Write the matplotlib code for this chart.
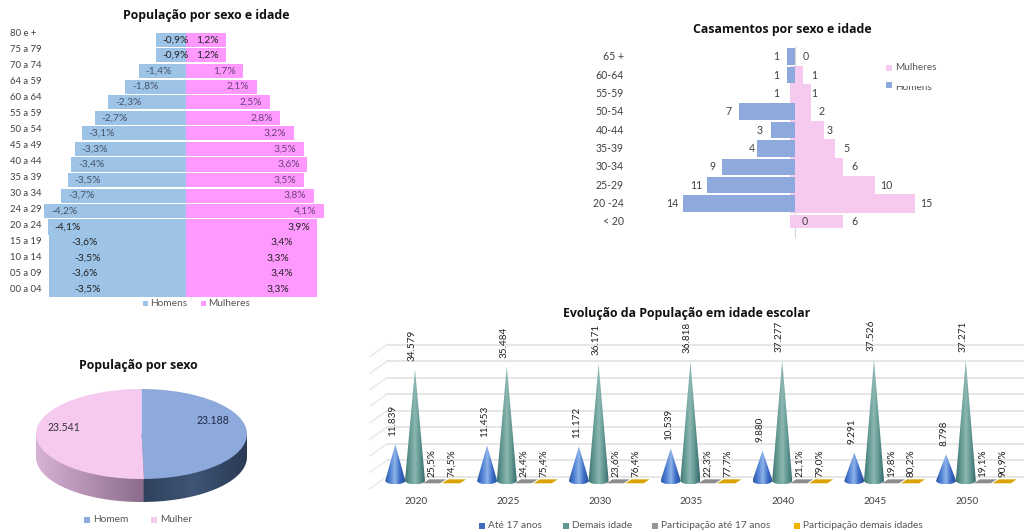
import numpy as np
import matplotlib
matplotlib.use("Agg")
import matplotlib.pyplot as plt
from matplotlib.colors import LinearSegmentedColormap
from matplotlib.patches import Polygon, Rectangle

W, H = 1024, 532
TITLE_FONT = "Open Sans"
plt.rcParams['font.family'] = ['Lato', 'DejaVu Sans']

# populacao por sexo e idade
ages = ["80 e +", "75 a 79", "70 a 74", "64 a 59", "60 a 64", "55 a 59", "50 a 54", "45 a 49", "40 a 44",
        "35 a 39", "30 a 34", "24 a 29", "20 a 24", "15 a 19", "10 a 14", "05 a 09", "00 a 04"]
men_pct = [0.9, 0.9, 1.4, 1.8, 2.3, 2.7, 3.1, 3.3, 3.4, 3.5, 3.7, 4.2, 4.1, 3.6, 3.5, 3.6, 3.5]
women_pct = [1.2, 1.2, 1.7, 2.1, 2.5, 2.8, 3.2, 3.5, 3.6, 3.5, 3.8, 4.1, 3.9, 3.4, 3.3, 3.4, 3.3]
# in the picture the last rows are drawn wider than their labels say
men_drawn = [0.9, 0.9, 1.4, 1.8, 2.3, 2.7, 3.1, 3.3, 3.4, 3.5, 3.7, 4.2, 4.1, 4.07, 4.07, 4.07, 4.07]
women_drawn = [1.2, 1.2, 1.7, 2.1, 2.5, 2.8, 3.2, 3.5, 3.6, 3.5, 3.8, 4.1, 3.9, 3.9, 3.9, 3.9, 3.9]

# casamentos por sexo e idade
wed_ages = ["65 +", "60-64", "55-59", "50-54", "40-44", "35-39", "30-34", "25-29", "20 -24", "< 20"]
wed_men = [1, 1, 1, 7, 3, 4, 9, 11, 14, 0]
wed_women = [0, 1, 1, 2, 3, 5, 6, 10, 15, 6]
wed_men_drawn = [1, 1, 0, 7, 3, 4.75, 9.1, 11, 14, 0]
wed_women_drawn = [0, 1, 2, 2, 3.6, 5, 6, 10, 15, 6]

# populacao por sexo
sex_labels = ["Homem", "Mulher"]
sex_values = [23188, 23541]

# evolucao escolar
years = ["2020", "2025", "2030", "2035", "2040", "2045", "2050"]
under_17 = [11839, 11453, 11172, 10539, 9880, 9291, 8798]
others = [34579, 35484, 36171, 36818, 37277, 37526, 37271]
share_under = ["25,5%", "24,4%", "23,6%", "22,3%", "21,1%", "19,8%", "19,1%"]
share_others = ["74,5%", "75,4%", "76,4%", "77,7%", "79,0%", "80,2%", "90,9%"]

BLUE1, PINK1 = '#9DC3E6', '#FF99FF'
BLUE2, PINK2 = '#8EA9DB', '#F6CAEE'
TXT = '#404040'

fig = plt.figure(figsize=(W / 100, H / 100), dpi=100)


def px_axes(left, top, right, bottom):
    ax = fig.add_axes([left / W, 1 - bottom / H, (right - left) / W, (bottom - top) / H])
    ax.axis('off')
    return ax


def fig_text(x, y, s, **kw):
    fig.text(x / W, 1 - y / H, s, **kw)


def title(x, y, s):
    fig_text(x, y, s, ha='center', va='center', fontsize=8.9, fontweight='bold',
             family=TITLE_FONT, color='#111111')


def legend_item(x, y, color, label, size=6, fontsize=7.3, text_dy=0):
    fig.add_artist(Rectangle(((x - size / 2) / W, 1 - (y + size / 2) / H), size / W, size / H,
                             transform=fig.transFigure, fc=color, ec='none'))
    fig_text(x + size / 2 + 3, y + text_dy, label, ha='left', va='center', fontsize=fontsize, color='#555555')


# ---- piramide 1
ax = px_axes(0, 32, 340, 297)
scale1 = 33.7
ax.set_xlim(-186 / scale1, (340 - 186) / scale1)
ax.set_ylim(16.5, -0.5)
rows = np.arange(len(ages))
heights = [1.02 if i >= 12 else 0.9 for i in rows]
ax.barh(rows, [-v for v in men_drawn], height=heights, color=BLUE1)
ax.barh(rows, women_drawn, height=heights, color=PINK1)
for i in rows:
    dark = i < 2 or i >= 12
    men_c = '#222222' if dark else '#44546A'
    women_c = '#222222' if dark else '#6B3E78'
    ax.text(-men_pct[i] + 20 / scale1, i, "-" + f"{men_pct[i]:.1f}%".replace('.', ','), ha='center', va='center',
            fontsize=7.4, color=men_c)
    ax.text(women_pct[i] - 19 / scale1, i, f"{women_pct[i]:.1f}%".replace('.', ','), ha='center', va='center',
            fontsize=7.4, color=women_c)
    # the age labels run on their own, slightly wider, spacing
    ax.text(10 / 340, 1 - (1 + i * 16) / 265, ages[i], transform=ax.transAxes, ha='left', va='center',
            fontsize=6.8, color=TXT)
title(206, 15, "População por sexo e idade")
legend_item(145, 303, BLUE1, "Homens", size=5)
legend_item(203, 303, PINK1, "Mulheres", size=5)

# ---- piramide 2
ax = px_axes(640, 47.5, 960, 231)
scale2 = 8
ax.set_xlim(-155 / scale2, 165 / scale2)
ax.set_ylim(9.5, -0.5)
rows = np.arange(len(wed_ages))
ax.plot([0, 0], [-0.5, 9.8], color='#D9D9D9', lw=0.8, zorder=0, clip_on=False)
for i in rows:
    if wed_women_drawn[i] > 0:
        ax.barh(i, wed_women_drawn[i] + 0.6, left=-0.6, height=0.7 if i == 9 else 1.0, color=PINK2, zorder=1)
ax.barh(rows, [-v for v in wed_men_drawn], height=0.9, color=BLUE2, zorder=2)
for i in rows:
    x_men = -(wed_men[i] + 11 / scale2) if wed_men[i] else 10 / scale2
    ax.text(x_men, i, str(wed_men[i]), ha='center', va='center', fontsize=7.6, color=TXT, zorder=3)
    ax.text(wed_women[i] + 11 / scale2, i, str(wed_women[i]), ha='center', va='center', fontsize=7.6,
            color=TXT, zorder=3)
    ax.text(-171 / scale2, i, wed_ages[i], ha='right', va='center', fontsize=7.6, color=TXT)
title(782, 30, "Casamentos por sexo e idade")
legend_item(889, 68, PINK2, "Mulheres", size=6, fontsize=7.2)
legend_item(889, 85, BLUE2, "Homens", size=6, fontsize=7.2, text_dy=3)
# top of this legend text is cut off in the picture
fig.add_artist(Rectangle((895 / W, 1 - 86 / H), 45 / W, 4 / H, transform=fig.transFigure, fc='white', ec='none',
                         zorder=5))

# ---- pizza
ax = px_axes(36, 389, 247, 502)
rim_cmap = LinearSegmentedColormap.from_list('rim', [(0, '#D6B2D4'), (0.508, '#8B6C8A'), (0.512, '#30425F'),
                                                     (0.75, '#3F5575'), (1, '#2A3A55')])
t = np.linspace(np.pi, 2 * np.pi, 120)
depth = 23 / 45
verts = np.column_stack([np.cos(t), np.sin(t) - depth])
verts = np.vstack([[[-1, 0]], verts, [[1, 0]]])
rim = ax.imshow(np.linspace(0, 1, 256)[None, :], extent=[-1, 1, -1 - depth, 0], aspect='auto', cmap=rim_cmap,
                zorder=0)
rim_patch = Polygon(verts, transform=ax.transData, fc='none', ec='none')
ax.add_patch(rim_patch)
rim.set_clip_path(rim_patch)
ax.pie(sex_values, colors=[BLUE2, PINK2], startangle=90, counterclock=False, radius=1)
ax.set_aspect('auto')
ax.set_xlim(-1, 1)
ax.set_ylim(-1 - depth, 1)
ax.text(0.68, 0.29, f"{sex_values[0]:,}".replace(',', '.'), ha='center', va='center', fontsize=7.6, color='#1F2A44')
ax.text(-0.735, 0.155, f"{sex_values[1]:,}".replace(',', '.'), ha='center', va='center', fontsize=7.6, color='#333333')
title(138, 366, "População por sexo")
legend_item(87, 520, BLUE2, sex_labels[0], size=6, fontsize=7.3)
legend_item(154, 520, PINK2, sex_labels[1], size=6, fontsize=7.3)

# ---- cones
ax = px_axes(366, 330, 1024, 490)
group_px = 91.8
wall_x = (387 - 416) / group_px
wall_dx = -17 / group_px
wall_dy = -12 / 3.3 * 1000
for g in range(2000, 42001, 5000):
    ax.plot([wall_x, 7], [g, g], color='#E4E4E4', lw=1.3, zorder=1)
    ax.plot([wall_x, wall_x + wall_dx], [g, g + wall_dy], color='#E8E8E8', lw=1.0, zorder=1)

blue_cone = LinearSegmentedColormap.from_list('bc', ['#2C55A3', '#4F80D4', '#8FB4EA', '#3A6CC4', '#2A4F9A'])
green_cone = LinearSegmentedColormap.from_list('gc', ['#3E7471', '#659A94', '#8DB8B2', '#5E9590', '#35696A'])


def cone(x, value, cmap):
    half = 10 / group_px
    a = np.linspace(0, np.pi, 30)
    outline = np.column_stack([x + half * np.cos(a), 800 - 1100 * np.sin(a)])
    outline = np.vstack([[[x, value]], outline])
    im = ax.imshow(np.linspace(0, 1, 128)[None, :], extent=[x - half, x + half, -300, value], aspect='auto',
                   cmap=cmap, zorder=3)
    clip = Polygon(outline, transform=ax.transData, fc='none', ec='none')
    ax.add_patch(clip)
    im.set_clip_path(clip)


def flat_bar(x0, x1, color):
    # participation series is near zero on this scale, only a thin slab shows
    slant = 6 / group_px
    ax.add_patch(Polygon([[x0, 0], [x1 - slant, 0], [x1, 1200], [x0 + slant, 1200]], fc=color, ec='none', zorder=2))


for i, year in enumerate(years):
    cone(i - 20.7 / group_px, under_17[i], blue_cone)
    cone(i - 1 / group_px, others[i], green_cone)
    flat_bar(i + 7 / group_px, i + 30 / group_px, '#8C8C8C')
    flat_bar(i + 26 / group_px, i + 50 / group_px, '#D9A300')
    lab = dict(rotation=90, ha='center', va='bottom', fontsize=7.2, color='#222222', zorder=4)
    ax.text(i - 23 / group_px, under_17[i] + 2600, f"{under_17[i]:,}".replace(',', '.'), **lab)
    ax.text(i - 4 / group_px, others[i] + 2600, f"{others[i]:,}".replace(',', '.'), **lab)
    ax.text(i + 16 / group_px, 1900, share_under[i], **lab)
    ax.text(i + 36 / group_px, 1900, share_others[i], **lab)
    fig_text(416 + i * group_px, 502, year, ha='center', va='center', fontsize=7.2, color=TXT)
ax.set_xlim((366 - 416) / group_px, (1024 - 416) / group_px)
ax.set_ylim((483.3 - 490) / 3.3 * 1000, (483.3 - 330) / 3.3 * 1000)
title(687, 313, "Evolução da População em idade escolar")
legend_item(482, 526, '#3E6DBE', "Até 17 anos", size=5.5)
legend_item(566, 526, '#5F9690', "Demais idade", size=5.5)
legend_item(655, 526, '#969696', "Participação até 17 anos", size=5.5)
legend_item(797, 526, '#F0B400', "Participação demais idades", size=5.5)

fig.savefig("out.png", dpi=100)
